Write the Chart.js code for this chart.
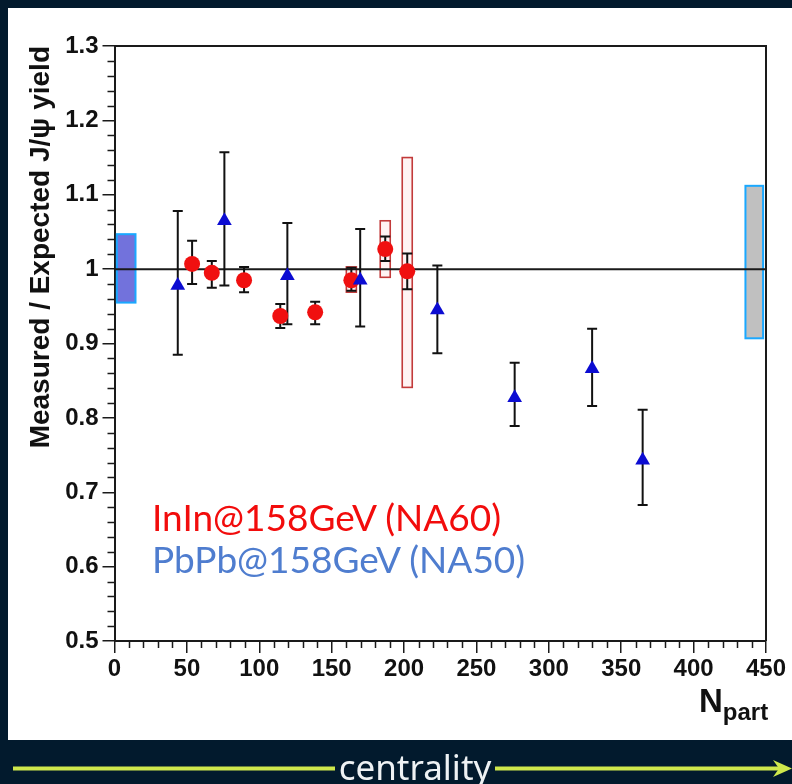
<!DOCTYPE html>
<html>
<head>
<meta charset="utf-8">
<script src="https://cdn.jsdelivr.net/npm/chart.js@4/dist/chart.umd.min.js"></script>
<style>
  html, body { margin: 0; padding: 0; }
  body { width: 792px; height: 784px; background: #021a2d; position: relative; overflow: hidden; }
  #panel { position: absolute; left: 8px; top: 8px; width: 784px; height: 732px; background: #fff; }
  #chart { position: absolute; left: 0; top: 0; }
  .legend { position: absolute; left: 152px; font-family: Lato, "Noto Sans", sans-serif; font-size: 37px; line-height: 1.2; white-space: nowrap; }
  #leg-inin { top: 495px; color: #f20c0c; }
  #leg-pbpb { top: 537px; color: #4f7dcf; }
  #xtitle { position: absolute; left: 699px; top: 684px; font-family: "Liberation Sans", Arial, sans-serif; font-weight: bold; font-size: 33px; line-height: 1; color: #111; white-space: nowrap; }
  #xtitle sub { font-size: 24px; vertical-align: -8px; }
  #centrality { position: absolute; left: 315px; width: 200px; top: 743px; text-align: center; font-family: "Noto Sans", sans-serif; font-size: 35px; line-height: 1.362; color: #eef2f4; }
  #arrow { position: absolute; left: 0; top: 0; }
</style>
</head>
<body>
<div id="panel"></div>
<canvas id="chart" width="792" height="784"></canvas>
<div class="legend" id="leg-inin">InIn@158GeV (NA60)</div>
<div class="legend" id="leg-pbpb">PbPb@158GeV (NA50)</div>
<div id="xtitle">N<sub>part</sub></div>
<svg id="arrow" width="792" height="784">
  <line x1="13" y1="768.5" x2="335" y2="768.5" stroke="#cfe84c" stroke-width="4"/>
  <line x1="495" y1="768.5" x2="780" y2="768.5" stroke="#cfe84c" stroke-width="4"/>
  <polygon points="773,760 792,768.5 773,777 779,768.5" fill="#cfe84c"/>
</svg>
<div id="centrality">centrality</div>

<script>
// InIn @ 158 GeV (NA60)
const inInNpart = [53.6, 67.2, 89.5, 114.5, 138.6, 163.6, 187, 202.2];
const inInRatio = [1.007, 0.995, 0.985, 0.937, 0.942, 0.985, 1.027, 0.997];
const inInStatLow = [0.980, 0.975, 0.969, 0.921, 0.926, 0.971, 1.011, 0.973];
const inInStatHigh = [1.038, 1.011, 1.003, 0.953, 0.956, 1.002, 1.044, 1.021];
const inInSystLow = [null, null, null, null, null, 0.969, 0.989, 0.841];
const inInSystHigh = [null, null, null, null, null, 1.003, 1.065, 1.150];

// PbPb @ 158 GeV (NA50)
const pbPbNpart = [43.7, 75.9, 119.4, 169.7, 223, 276.4, 329.9, 364.8];
const pbPbRatio = [0.978, 1.065, 0.991, 0.985, 0.945, 0.827, 0.866, 0.743];
const pbPbErrLow = [0.885, 0.978, 0.926, 0.923, 0.887, 0.789, 0.816, 0.683];
const pbPbErrHigh = [1.078, 1.157, 1.062, 1.054, 1.005, 0.874, 0.920, 0.811];

// global normalisation uncertainty boxes (left: InIn, right: PbPb)
const normNpartLow = [1.6, 435.8];
const normNpartHigh = [14.5, 448];
const normRatioLow = [0.955, 0.907];
const normRatioHigh = [1.047, 1.112];

// axis ticks
const xMajorStep = 50, xMinorStep = 10;
const yMajorStep = 0.1, yMinorStep = 0.02;

const axisColor = '#1a1a1a';
const tickFont = { family: '"Liberation Sans", Arial, sans-serif', size: 24, weight: 'bold' };

// boxes, reference line, error bars, frame and minor ticks
const decorations = {
  id: 'decorations',
  beforeDatasetsDraw(chart) {
    const { ctx, chartArea: a, scales: { x, y } } = chart;
    ctx.save();

    // normalisation boxes
    const normFill = ['#7272dc', '#c0c0c0'];
    normNpartLow.forEach((lo, i) => {
      const x0 = x.getPixelForValue(lo), x1 = x.getPixelForValue(normNpartHigh[i]);
      const y0 = y.getPixelForValue(normRatioHigh[i]), y1 = y.getPixelForValue(normRatioLow[i]);
      ctx.fillStyle = normFill[i];
      ctx.fillRect(x0, y0, x1 - x0, y1 - y0);
      ctx.strokeStyle = '#1aa8ff';
      ctx.lineWidth = 2;
      ctx.strokeRect(x0, y0, x1 - x0, y1 - y0);
    });

    // InIn systematic boxes
    inInNpart.forEach((n, i) => {
      if (inInSystLow[i] === null) return;
      const px = x.getPixelForValue(n);
      const y0 = y.getPixelForValue(inInSystHigh[i]), y1 = y.getPixelForValue(inInSystLow[i]);
      ctx.fillStyle = 'rgba(255,225,225,0.4)';
      ctx.fillRect(px - 5, y0, 10, y1 - y0);
      ctx.strokeStyle = '#c23a3a';
      ctx.lineWidth = 1.6;
      ctx.strokeRect(px - 5, y0, 10, y1 - y0);
    });

    // reference line at 1
    ctx.strokeStyle = axisColor;
    ctx.lineWidth = 2;
    ctx.beginPath();
    ctx.moveTo(a.left, y.getPixelForValue(1));
    ctx.lineTo(a.right, y.getPixelForValue(1));
    ctx.stroke();

    // error bars
    function errorBar(n, lo, hi) {
      const px = x.getPixelForValue(n);
      const yl = y.getPixelForValue(lo), yh = y.getPixelForValue(hi);
      ctx.beginPath();
      ctx.moveTo(px, yl); ctx.lineTo(px, yh);
      ctx.moveTo(px - 5, yl); ctx.lineTo(px + 5, yl);
      ctx.moveTo(px - 5, yh); ctx.lineTo(px + 5, yh);
      ctx.stroke();
    }
    ctx.strokeStyle = '#111';
    ctx.lineWidth = 2;
    inInNpart.forEach((n, i) => errorBar(n, inInStatLow[i], inInStatHigh[i]));
    pbPbNpart.forEach((n, i) => errorBar(n, pbPbErrLow[i], pbPbErrHigh[i]));
    ctx.restore();
  },
  afterDraw(chart) {
    const { ctx, chartArea: a, scales: { x, y } } = chart;
    ctx.save();
    ctx.strokeStyle = axisColor;
    ctx.lineWidth = 2;
    // top and right frame
    ctx.beginPath();
    ctx.moveTo(a.left, a.top); ctx.lineTo(a.right, a.top); ctx.lineTo(a.right, a.bottom);
    ctx.stroke();
    // minor ticks
    ctx.lineWidth = 1.5;
    ctx.beginPath();
    for (let v = 0; v <= 450; v += xMinorStep) {
      if (v % xMajorStep === 0) continue;
      const px = Math.round(x.getPixelForValue(v)) + 0.5;
      ctx.moveTo(px, a.bottom); ctx.lineTo(px, a.bottom + 7);
    }
    for (let k = 0; k <= 40; k++) {
      if (k % 5 === 0) continue;
      const py = Math.round(y.getPixelForValue(0.5 + k * yMinorStep)) + 0.5;
      ctx.moveTo(a.left, py); ctx.lineTo(a.left - 7, py);
    }
    ctx.stroke();
    ctx.restore();
  }
};

new Chart(document.getElementById('chart'), {
  type: 'scatter',
  data: {
    datasets: [{
      label: 'PbPb@158GeV (NA50)',
      data: pbPbNpart.map((n, i) => ({ x: n, y: pbPbRatio[i] })),
      pointStyle: 'triangle',
      pointRadius: 8.5,
      backgroundColor: '#0c0cd2',
      borderColor: '#0c0cd2',
      borderWidth: 0,
      order: 0
    }, {
      label: 'InIn@158GeV (NA60)',
      data: inInNpart.map((n, i) => ({ x: n, y: inInRatio[i] })),
      pointStyle: 'circle',
      pointRadius: 8,
      backgroundColor: '#f01010',
      borderColor: '#f01010',
      borderWidth: 0,
      order: 1
    }]
  },
  options: {
    responsive: false,
    animation: false,
    layout: { padding: { top: 46, right: 26, bottom: 0, left: 0 } },
    plugins: { legend: { display: false }, tooltip: { enabled: false } },
    scales: {
      x: {
        type: 'linear',
        min: 0,
        max: 450,
        afterFit(scale) { scale.height = 143; },
        ticks: { stepSize: xMajorStep, font: tickFont, color: '#111', padding: 2, maxRotation: 0 },
        grid: { drawOnChartArea: false, drawTicks: true, tickLength: 12, color: axisColor, lineWidth: 1.5 },
        border: { display: true, color: axisColor, width: 2 }
      },
      y: {
        type: 'linear',
        min: 0.5,
        max: 1.3,
        afterFit(scale) { scale.width = 114.5; },
        ticks: {
          stepSize: yMajorStep,
          font: tickFont,
          color: '#111',
          padding: 4,
          callback: v => String(Math.round(v * 10) / 10)
        },
        grid: { drawOnChartArea: false, drawTicks: true, tickLength: 12, color: axisColor, lineWidth: 1.5 },
        border: { display: true, color: axisColor, width: 2 },
        title: {
          display: true,
          text: 'Measured / Expected J/\u03c8 yield',
          align: 'end',
          color: '#111',
          font: { family: '"Liberation Sans", Arial, sans-serif', size: 28, weight: 'bold' },
          padding: { top: 24, bottom: 0 }
        }
      }
    }
  },
  plugins: [decorations]
});
</script>
</body>
</html>
